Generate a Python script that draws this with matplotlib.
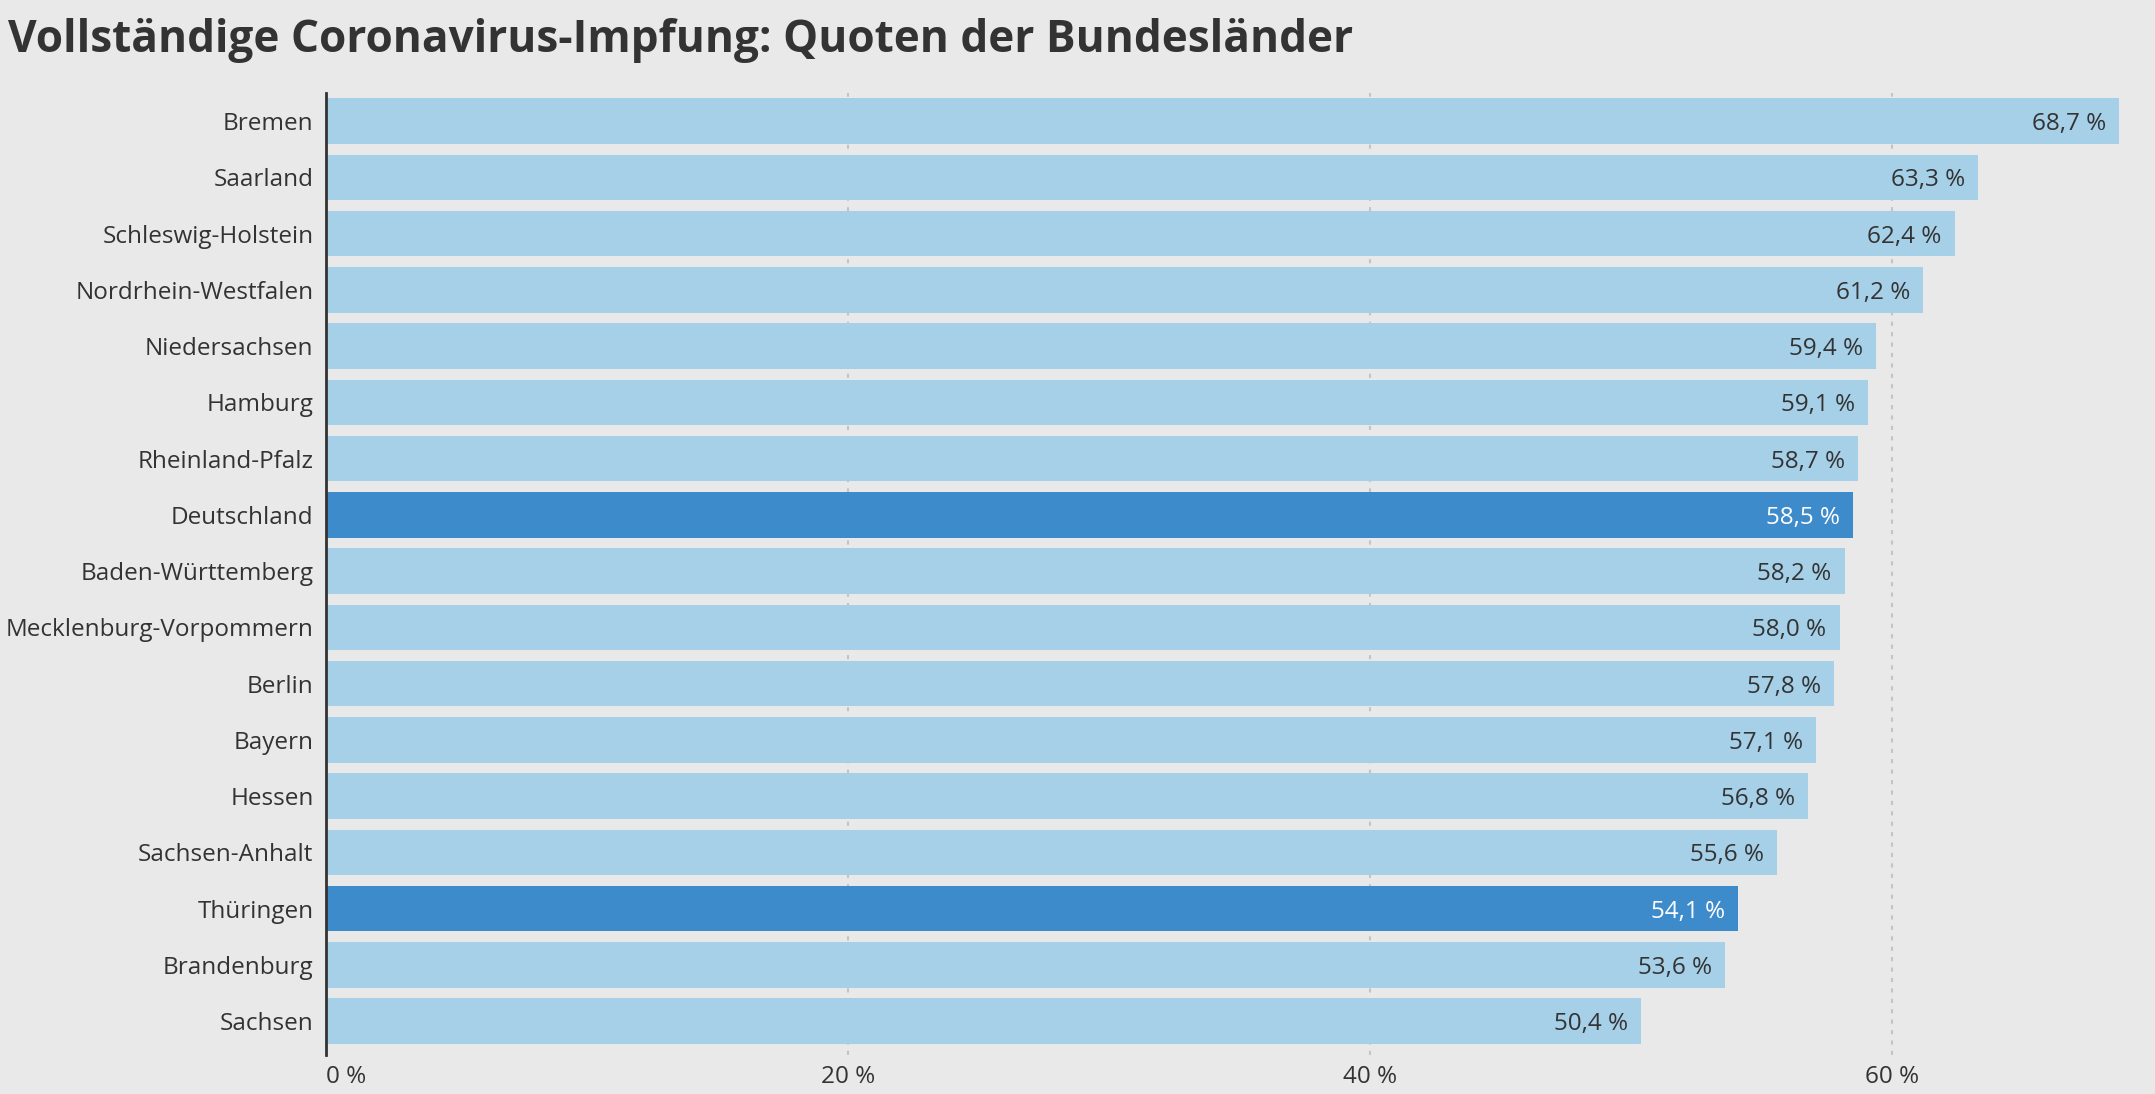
import matplotlib
matplotlib.use("Agg")
import matplotlib.pyplot as plt

title = "Vollständige Coronavirus-Impfung: Quoten der Bundesländer"
states = ["Bremen", "Saarland", "Schleswig-Holstein", "Nordrhein-Westfalen",
          "Niedersachsen", "Hamburg", "Rheinland-Pfalz", "Deutschland",
          "Baden-Württemberg", "Mecklenburg-Vorpommern", "Berlin", "Bayern",
          "Hessen", "Sachsen-Anhalt", "Thüringen", "Brandenburg", "Sachsen"]
values = [68.7, 63.3, 62.4, 61.2, 59.4, 59.1, 58.7, 58.5, 58.2, 58.0,
          57.8, 57.1, 56.8, 55.6, 54.1, 53.6, 50.4]
highlight = ["Deutschland", "Thüringen"]
xticks = [0, 20, 40, 60]

BG = "#e9e9e9"
LIGHT = "#a5d0e8"
DARK = "#3d8bca"
TEXT = "#333333"

plt.rcParams['font.family'] = ['Open Sans', 'DejaVu Sans']

fig = plt.figure(figsize=(21.55, 10.94), dpi=100, facecolor=BG)
ax = fig.add_axes([0.1513, 0.0357, 0.8344, 0.8793], facecolor=BG)

ypos = list(range(len(states)))
colors = [DARK if s in highlight else LIGHT for s in states]
ax.barh(ypos, values, height=0.81, color=colors, zorder=2)

for y, v, s in zip(ypos, values, states):
    lbl = f"{v:.1f}".replace(".", ",") + " %"
    ax.annotate(lbl, xy=(v, y), xytext=(-9.5, 0), textcoords="offset points",
                ha="right", va="center_baseline", fontsize=17.5,
                color="white" if s in highlight else TEXT, zorder=3)

ax.set_ylim(16.6, -0.5)
ax.set_xlim(0, 68.9)
ax.set_yticks(ypos)
ax.set_yticklabels(states, fontsize=17.5, color=TEXT)
ax.set_xticks(xticks)
ax.set_xticklabels([f"{t} %" for t in xticks], fontsize=17.5, color=TEXT)
xl = ax.get_xticklabels()
xl[0].set_horizontalalignment("left")
ax.tick_params(axis="both", length=0)
ax.tick_params(axis="y", pad=9)
ax.tick_params(axis="x", pad=7)

ax.grid(axis="x", linestyle=(0, (2, 3)), color="#c4c4c4", linewidth=1.5, zorder=0)
ax.grid(axis="y", visible=False)
for side in ["top", "right", "bottom"]:
    ax.spines[side].set_visible(False)
ax.spines["left"].set_color(TEXT)
ax.spines["left"].set_linewidth(2)
ax.spines["left"].set_zorder(4)

fig.text(0.0037, 0.963, title, fontsize=31.8, fontweight="bold", color=TEXT,
         ha="left", va="center")

fig.savefig("out.png", dpi=100, facecolor=BG)
